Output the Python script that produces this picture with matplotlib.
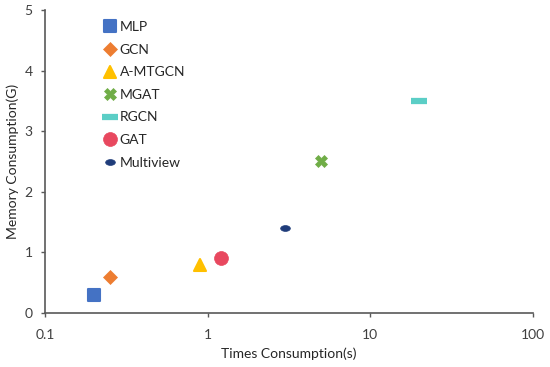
import matplotlib
matplotlib.use("Agg")
import matplotlib.pyplot as plt
from matplotlib.markers import MarkerStyle
from matplotlib.path import Path
from matplotlib.transforms import Affine2D

plt.rcParams['font.family'] = ['Lato', 'DejaVu Sans']

# data
models = ['MLP', 'GCN', 'A-MTGCN', 'MGAT', 'RGCN', 'GAT', 'Multiview']
times = [0.2, 0.25, 0.9, 5, 20, 1.2, 3]
memory = [0.3, 0.6, 0.8, 2.5, 3.5, 0.9, 1.4]
colors = ['#4472C4', '#ED7D31', '#FFC000', '#70AD47', '#5BCEC6', '#E8485F', '#1F3C7A']

ellipse = Path.unit_circle().transformed(Affine2D().scale(1, 0.6))
markers = [MarkerStyle('s', joinstyle='round'), 'D', MarkerStyle('^', joinstyle='round'),
           'X', '_', 'o', ellipse]
sizes = [9, 7, 9, 9, 11, 10, 7]
edgewidths = [1.5, 0.5, 1.5, 0.5, 4.5, 0.5, 0.5]

fig = plt.figure(figsize=(5.5, 3.67), dpi=100)
ax = fig.add_axes([0.082, 0.147, 0.887, 0.826])

for m, t, y, c, mk, s, ew in zip(models, times, memory, colors, markers, sizes, edgewidths):
    ax.plot([t], [y], linestyle='none', marker=mk, markersize=s, color=c,
            markeredgecolor=c, markeredgewidth=ew, label=m)

ax.set_xscale('log')
ax.set_xlim(0.1, 100)
ax.set_ylim(0, 5)
ax.set_xticks([0.1, 1, 10, 100])
ax.set_xticklabels(['0.1', '1', '10', '100'])
ax.minorticks_off()
ax.set_yticks([0, 1, 2, 3, 4, 5])

for side in ['top', 'right']:
    ax.spines[side].set_visible(False)
for side in ['left', 'bottom']:
    ax.spines[side].set_color('#595959')
    ax.spines[side].set_linewidth(1.2)
ax.tick_params(axis='both', colors='#595959', labelcolor='#404040', labelsize=10,
               length=3, width=1)
ax.tick_params(axis='x', pad=8.5)
ax.tick_params(axis='y', pad=6)

ax.set_xlabel('Times Consumption(s)', fontsize=10, color='#262626', labelpad=4.5)
ax.set_ylabel('Memory Consumption(G)', fontsize=10, color='#262626', labelpad=4)

ax.legend(loc='upper left', bbox_to_anchor=(0.102, 0.99), frameon=False, fontsize=10,
          handlelength=1.0, handletextpad=0.2, labelspacing=0.76, borderaxespad=0.2,
          labelcolor='#262626')

fig.savefig('out.png', dpi=100)
